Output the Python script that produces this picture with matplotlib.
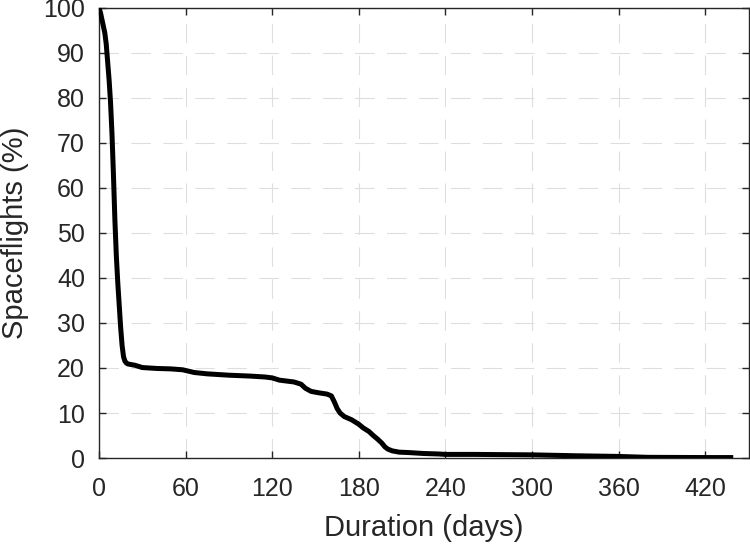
import matplotlib
matplotlib.use('Agg')
import matplotlib.pyplot as plt
import numpy as np

# --- Data ---

days = [0, 1, 2, 3, 4, 5, 6, 7, 8, 9, 10, 11, 12, 13, 14, 15, 16, 17, 18,
        19, 20, 25, 30, 40, 50, 58, 62, 66, 75, 90, 105, 115, 120, 125, 130,
        135, 140, 143, 147, 152, 158, 161, 163, 165, 167, 170, 175, 180, 183,
        187, 190, 193, 196, 198, 200, 203, 208, 215, 225, 235, 240, 260, 300,
        330, 360, 380, 420, 437.7]
percent = [100, 99, 97.5, 96, 94.5, 92, 88, 84, 79, 72, 63, 53, 45, 39, 34,
           29, 25, 22.5, 21.5, 21.1, 20.9, 20.6, 20.1, 19.9, 19.8, 19.6, 19.3,
           19, 18.7, 18.4, 18.2, 18.0, 17.8, 17.3, 17.1, 16.9, 16.4, 15.5,
           14.8, 14.5, 14.2, 13.8, 12.5, 11, 10, 9.2, 8.5, 7.5, 6.7, 5.9, 5,
           4.2, 3.3, 2.5, 2.0, 1.6, 1.3, 1.2, 1.0, 0.9, 0.8, 0.8, 0.7, 0.5,
           0.35, 0.15, 0.1, 0.1]

xticks = list(range(0, 421, 60))
yticks = list(range(0, 101, 10))

# --- Style (MATLAB-like) ---

plt.rcParams['font.family'] = ['Liberation Sans', 'DejaVu Sans']
plt.rcParams['lines.scale_dashes'] = False
txt = '#262626'

fig = plt.figure(figsize=(7.5, 5.47), dpi=100)
ax = fig.add_axes([0.132, 0.1627, 0.866, 0.8227])

ax.plot(days, percent, color='black', lw=3.6, solid_joinstyle='round',
        zorder=3)

ax.set_xlim(0, 450)
ax.set_ylim(0, 100)
ax.set_xticks(xticks)
ax.set_yticks(yticks)

ax.grid(True, color='#dedede', lw=0.8, linestyle=(0, (14, 9)))
ax.set_axisbelow(True)

for sp in ax.spines.values():
    sp.set_color(txt)
    sp.set_linewidth(1.0)

ax.tick_params(direction='in', length=5, width=1, color=txt,
               top=True, right=True, labelsize=18, labelcolor=txt)
ax.tick_params(axis='x', pad=14)
ax.tick_params(axis='y', pad=10)

ax.set_xlabel('Duration (days)', fontsize=21, color=txt)
ax.set_ylabel('Spaceflights (%)', fontsize=21, color=txt)
ax.xaxis.set_label_coords(0.5, -0.125)
ax.yaxis.set_label_coords(-0.108, 0.5)

fig.savefig('out.png', dpi=100)
